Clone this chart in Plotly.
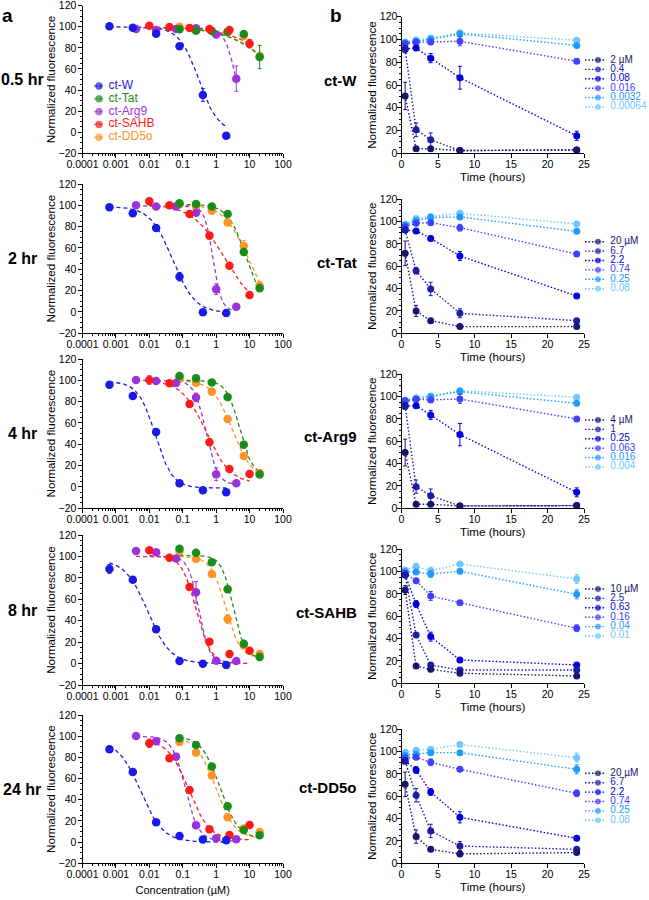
import numpy as np
import plotly.graph_objects as go

FONT = "Liberation Sans, Arial, sans-serif"
W, H = 649, 900

# ---------------- panel a : dose-response ----------------
time_labels = ["0.5 hr", "2 hr", "4 hr", "8 hr", "24 hr"]
peptides = ["ct-W", "ct-Tat", "ct-Arg9", "ct-SAHB", "ct-DD5o"]
pep_colors = {"ct-W": "#1a1ae6", "ct-Tat": "#1a8c1a", "ct-Arg9": "#9933dd",
              "ct-SAHB": "#ff1a1a", "ct-DD5o": "#ff9422"}

conc = {
    "ct-W":    [0.00064, 0.0032, 0.016, 0.08, 0.4, 2],
    "ct-Tat":  [0.08, 0.25, 0.74, 2.2, 6.7, 20],
    "ct-Arg9": [0.004, 0.016, 0.063, 0.25, 1, 4],
    "ct-SAHB": [0.01, 0.04, 0.16, 0.63, 2.5, 10],
    "ct-DD5o": [0.08, 0.25, 0.74, 2.2, 6.7, 20],
}

vals_0p5h = {
    "ct-W":    [100.5, 99, 93.5, 81.5, 35.3, -3.3],
    "ct-Tat":  [97.6, 96.3, 96, 95.4, 93.1, 71.3],
    "ct-Arg9": [98, 97, 98, 98.5, 92.8, 50.8],
    "ct-SAHB": [101, 99.8, 98.8, 98, 97, 84],
    "ct-DD5o": [100, 98, 96, 94.7, 91.2, 72],
}
err_0p5h = {
    "ct-W": [1, 1, 2, 2, 6, 1], "ct-Tat": [1, 1, 1, 1, 2, 11], "ct-Arg9": [1, 1, 1, 1, 2, 12],
    "ct-SAHB": [1, 1, 1, 1, 1, 4], "ct-DD5o": [1, 1, 1, 1, 2, 4],
}
vals_2h = {
    "ct-W":    [98.1, 92.5, 78.8, 33.1, -0.3, -0.9],
    "ct-Tat":  [101.9, 101.3, 98.8, 91.9, 56.3, 22.2],
    "ct-Arg9": [100, 98.8, 98.8, 93, 21.3, 5],
    "ct-SAHB": [103.8, 100, 91.9, 71.6, 43.4, 15.9],
    "ct-DD5o": [101, 98.8, 95, 84, 61.9, 24.7],
}
err_2h = {
    "ct-W": [1, 1, 2, 4, 1, 1], "ct-Tat": [1, 1, 1, 2, 3, 3], "ct-Arg9": [1, 1, 1, 2, 5, 2],
    "ct-SAHB": [3, 1, 2, 3, 2, 1], "ct-DD5o": [1, 1, 2, 3, 5, 4],
}
vals_4h = {
    "ct-W":    [95.9, 85.3, 51.6, 3.4, -3.1, -5],
    "ct-Tat":  [104, 102, 98, 84.4, 39.7, 11.6],
    "ct-Arg9": [100.3, 99.4, 97.5, 84, 11.9, 3.4],
    "ct-SAHB": [100.3, 97.2, 77.8, 41.9, 16.9, 12.2],
    "ct-DD5o": [101.9, 97.8, 89.4, 63.8, 29.1, 13.1],
}
err_4h = {
    "ct-W": [1, 1, 2, 1, 1, 1], "ct-Tat": [1, 1, 1, 2, 3, 1], "ct-Arg9": [1, 1, 1, 4, 6, 1],
    "ct-SAHB": [4, 1, 3, 3, 2, 2], "ct-DD5o": [1, 1, 3, 3, 3, 1],
}
vals_8h = {
    "ct-W":    [88.3, 78.3, 32, 2.4, -0.1, -1.3],
    "ct-Tat":  [107.2, 103.5, 94.5, 69.3, 18.6, 6.1],
    "ct-Arg9": [105, 104, 98, 66.5, 2.7, 2.4],
    "ct-SAHB": [105.7, 98.8, 71.5, 20.4, 8.9, 12],
    "ct-DD5o": [104.8, 97.9, 83.6, 41.6, 17, 8.9],
}
err_8h = {
    "ct-W": [4, 1, 2, 2, 1, 1], "ct-Tat": [2, 1, 2, 3, 2, 1], "ct-Arg9": [1, 2, 1, 10, 1, 1],
    "ct-SAHB": [1, 1, 2, 2, 1, 1], "ct-DD5o": [2, 2, 2, 4, 2, 1],
}
vals_24h = {
    "ct-W":    [87.6, 66.2, 18.7, 5.8, 2.4, 1.8],
    "ct-Tat":  [98, 91.7, 71.3, 33.8, 11.5, 6.5],
    "ct-Arg9": [100.2, 95.2, 80.7, 15.9, 3.6, 2.7],
    "ct-SAHB": [93.3, 79.1, 49.2, 12.1, 6.8, 16.2],
    "ct-DD5o": [94.5, 84.5, 62.8, 23.5, 12.8, 9.6],
}
err_24h = {
    "ct-W": [3, 2, 1, 1, 1, 1], "ct-Tat": [1, 1, 2, 2, 1, 1], "ct-Arg9": [1, 1, 3, 3, 1, 1],
    "ct-SAHB": [4, 3, 2, 1, 1, 1], "ct-DD5o": [3, 3, 3, 2, 1, 2],
}

# fitted 4-parameter logistic (top, bottom, EC50, Hill)
fit_0p5h = {"ct-W": (100, 0, 0.3, 1.5), "ct-Tat": (100, 0, 100, 0.6), "ct-Arg9": (99, 0, 4, 2.5),
            "ct-SAHB": (100, 0, 150, 0.6), "ct-DD5o": (100, 0, 110, 0.6)}
fit_2h = {"ct-W": (99, -1, 0.05, 1.3), "ct-Tat": (101, 0, 8, 1.6), "ct-Arg9": (99.5, 1, 0.8, 3.5),
          "ct-SAHB": (101, 0, 1.8, 0.9), "ct-DD5o": (101, 0, 9, 1.2)}
fit_4h = {"ct-W": (99, -1, 0.015, 1.7), "ct-Tat": (100, 10, 5, 2.2), "ct-Arg9": (100, 2, 0.5, 2.5),
          "ct-SAHB": (100, 3, 0.5, 1.2), "ct-DD5o": (100, 8, 3, 1.5)}
fit_8h = {"ct-W": (97, 0, 0.009, 1.3), "ct-Tat": (101, 5, 3.2, 2.5), "ct-Arg9": (100, 1, 0.3, 2.8),
          "ct-SAHB": (101, 0, 0.25, 2), "ct-DD5o": (100, 5, 1.9, 2)}
fit_24h = {"ct-W": (96, 0, 0.0055, 1.3), "ct-Tat": (100, 3, 1.3, 1.6), "ct-Arg9": (100, 1, 0.12, 2.2),
           "ct-SAHB": (97, 2, 0.15, 1.4), "ct-DD5o": (100, 3, 0.95, 1.5)}

a_vals = [vals_0p5h, vals_2h, vals_4h, vals_8h, vals_24h]
a_errs = [err_0p5h, err_2h, err_4h, err_8h, err_24h]
a_fits = [fit_0p5h, fit_2h, fit_4h, fit_8h, fit_24h]

x_ticks_a = [0.0001, 0.001, 0.01, 0.1, 1, 10, 100]
x_ticktext_a = ["0.0001", "0.001", "0.01", "0.1", "1", "10", "100"]

# ---------------- panel b : time courses ----------------
times_h = [0.5, 2, 4, 8, 24]
b_peptides = ["ct-W", "ct-Tat", "ct-Arg9", "ct-SAHB", "ct-DD5o"]
b_colors = ["#16166e", "#1c1ca8", "#0000dc", "#4040ff", "#1e9bff", "#70c6ff"]

b_labels_W = ["2 µM", "0.4", "0.08", "0.016", "0.0032", "0.00064"]
b_vals_W = [[50.4, 3.9, 4.1, 2.4, 3.0], [91.3, 20.7, 11.9, 2.4, 3.0], [91.8, 92.4, 83.6, 66.4, 15.4],
            [96.3, 97.5, 97.8, 98.4, 80.9], [97.2, 98.4, 100.1, 104.9, 94.8], [97.8, 99.6, 101.3, 105.8, 99.3]]
b_errs_W = [[12, 1, 1, 1, 1], [3, 6, 6, 1, 1], [3, 2, 4, 10, 4], [2, 1, 1, 4, 2], [2, 1, 1, 2, 1], [2, 2, 2, 2, 1]]

b_labels_Tat = ["20 µM", "6.7", "2.2", "0.74", "0.25", "0.08"]
b_vals_Tat = [[71.6, 20, 11.3, 6, 6], [92.5, 56.1, 39.7, 17.9, 11.3], [92.5, 91.6, 85, 69.3, 33.4],
              [95.5, 98.5, 99.1, 94.6, 71], [96.7, 100.9, 103.6, 104.2, 91.3], [97.9, 102.7, 104.5, 107.5, 97.9]]
b_errs_Tat = [[11, 5, 2, 1, 1], [2, 3, 6, 4, 1], [2, 2, 2, 4, 1], [2, 2, 2, 3, 1], [2, 2, 2, 2, 1], [2, 2, 2, 2, 1]]

b_labels_Arg9 = ["4 µM", "1", "0.25", "0.063", "0.016", "0.004"]
b_vals_Arg9 = [[49.9, 3.6, 3.6, 2.1, 2.4], [91.6, 19.4, 11.3, 2.1, 2.4], [91.6, 91.9, 83.6, 66, 14.3],
               [96.4, 97.6, 97, 97.9, 80], [95.5, 97.6, 100, 104.5, 94], [97, 99.1, 100.6, 105.4, 99.4]]
b_errs_Arg9 = [[12, 1, 1, 1, 1], [3, 6, 6, 1, 1], [3, 2, 4, 10, 4], [2, 1, 1, 4, 2], [2, 1, 1, 2, 1], [2, 2, 2, 2, 1]]

b_labels_SAHB = ["10 µM", "2.5", "0.63", "0.16", "0.04", "0.01"]
b_vals_SAHB = [[83.6, 15.5, 12.5, 9, 6.6], [97, 43.3, 16.4, 11.9, 11.9], [97, 71, 41.8, 20.9, 16.4],
               [98.5, 91.9, 78.2, 72.2, 49.3], [100, 99.7, 97.9, 100.3, 79.7], [101.5, 104.5, 100.9, 106.9, 93.4]]
b_errs_SAHB = [[4, 1, 2, 1, 1], [2, 2, 2, 1, 1], [2, 3, 4, 2, 1], [2, 2, 4, 2, 3], [2, 2, 3, 2, 4], [2, 3, 3, 2, 4]]

b_labels_DD5o = ["20 µM", "6.7", "2.2", "0.74", "0.25", "0.08"]
b_vals_DD5o = [[70.7, 23.9, 12.5, 8.4, 9.6], [91.3, 60.9, 29, 15.5, 12.5], [91.9, 83.6, 63.9, 41.2, 22.4],
               [94.3, 94.9, 90.4, 84.2, 62.7], [96.7, 97.6, 99.1, 99.1, 84.2], [99.4, 101.2, 102.1, 106.3, 94.6]]
b_errs_DD5o = [[11, 6, 2, 1, 1], [2, 6, 6, 4, 1], [2, 3, 3, 5, 1], [2, 2, 3, 1, 3], [2, 2, 2, 2, 4], [2, 2, 2, 2, 4]]

b_labels = [b_labels_W, b_labels_Tat, b_labels_Arg9, b_labels_SAHB, b_labels_DD5o]
b_vals = [b_vals_W, b_vals_Tat, b_vals_Arg9, b_vals_SAHB, b_vals_DD5o]
b_errs = [b_errs_W, b_errs_Tat, b_errs_Arg9, b_errs_SAHB, b_errs_DD5o]

# ---------------- layout geometry (pixels) ----------------
left_x_px = (82.5, 283)
right_x_px = (401.5, 584)
left_y_px = [(5.7, 153.3), (184, 333.3), (359, 508.3), (535, 685), (715, 863.3)]
right_y_px = [(16.7, 153.3), (199.3, 333.3), (374.3, 508.3), (549.3, 683.3), (729.3, 863.3)]
right_label_y = [80, 262, 437, 612, 787]
right_leg_first = [60, 241.7, 420, 589, 773.3]
ROW = 9.4


def xd(a, b):
    return [a / W, b / W]


def yd(top, bottom):
    return [1 - bottom / H, 1 - top / H]


def logistic(x, top, bottom, ec50, hill):
    return bottom + (top - bottom) / (1 + (x / ec50) ** hill)


fig = go.Figure()
layout = {}

axis_common = dict(showline=True, linecolor="black", linewidth=1, ticks="outside", ticklen=4,
                   tickwidth=1, tickcolor="black", showgrid=False, zeroline=False, tickangle=0,
                   tickfont=dict(family=FONT, size=10.5, color="black"), fixedrange=True)
title_font = dict(family=FONT, size=11.6, color="black")

minor_log = [m * 10.0 ** k for k in range(-4, 2) for m in range(2, 10)]
draw_order = ["ct-DD5o", "ct-Arg9", "ct-Tat", "ct-SAHB", "ct-W"]

for r in range(5):
    ia = 2 * r + 1
    ib = 2 * r + 2
    xa, ya = f"x{ia}", f"y{ia}"
    xb, yb = f"x{ib}", f"y{ib}"
    # ---- panel a axes
    layout[f"xaxis{ia}"] = dict(axis_common, type="log", range=[-4, 2], domain=xd(*left_x_px), anchor=ya,
                                tickvals=x_ticks_a, ticktext=x_ticktext_a, ticklabelstandoff=-3,
                                minor=dict(ticks="outside", ticklen=2, tickvals=minor_log, tickcolor="black"),
                                title=dict(text="Concentration (µM)" if r == 4 else "",
                                           font=dict(family=FONT, size=11, color="black"), standoff=7))
    layout[f"yaxis{ia}"] = dict(axis_common, range=[-20, 120], domain=yd(*left_y_px[r]), anchor=xa,
                                tickvals=list(range(-20, 121, 20)), ticklabelstandoff=-1,
                                minor=dict(ticks="outside", ticklen=2, dtick=5, tickcolor="black"),
                                title=dict(text="Normalized fluorescence", font=title_font, standoff=0))
    vals, errs, fits = a_vals[r], a_errs[r], a_fits[r]
    for p in draw_order:
        c = conc[p]
        xs = np.logspace(np.log10(min(c)), np.log10(max(c)), 150)
        fig.add_trace(go.Scatter(x=xs, y=logistic(xs, *fits[p]), mode="lines", xaxis=xa, yaxis=ya,
                                 line=dict(color=pep_colors[p], width=1.3, dash="4px,3px"),
                                 hoverinfo="skip", showlegend=False))
    for p in draw_order:
        fig.add_trace(go.Scatter(x=conc[p], y=vals[p], mode="markers", xaxis=xa, yaxis=ya, name=p,
                                 marker=dict(color=pep_colors[p], size=8.5),
                                 error_y=dict(type="data", array=errs[p], color=pep_colors[p],
                                              thickness=1, width=2),
                                 showlegend=False))
    # ---- panel b axes
    layout[f"xaxis{ib}"] = dict(axis_common, range=[0, 25], domain=xd(*right_x_px), anchor=yb,
                                tickvals=list(range(0, 26, 5)), ticklabelstandoff=-3,
                                title=dict(text="Time (hours)", font=title_font, standoff=0))
    layout[f"yaxis{ib}"] = dict(axis_common, range=[0, 120], domain=yd(*right_y_px[r]), anchor=xb,
                                tickvals=list(range(0, 121, 20)), ticklabelstandoff=-3,
                                minor=dict(ticks="outside", ticklen=2, dtick=5, tickcolor="black"),
                                title=dict(text="Normalized fluorescence", font=title_font, standoff=0))
    for k in reversed(range(6)):
        fig.add_trace(go.Scatter(x=times_h, y=b_vals[r][k], mode="lines+markers", xaxis=xb, yaxis=yb,
                                 name=b_labels[r][k],
                                 line=dict(color=b_colors[k], width=1.4, dash="1.5px,2px"),
                                 marker=dict(color=b_colors[k], size=7),
                                 error_y=dict(type="data", array=b_errs[r][k], color=b_colors[k],
                                              thickness=1, width=2),
                                 showlegend=False))

# ---------------- hand-built legends (mini axes) ----------------
leg_glyph_a = [0, 1, 2]      # line start, marker, line end
leg_text_a = 2.9             # label anchor
layout["xaxis11"] = dict(visible=False, range=[0, 3], domain=xd(94, 109), anchor="y11", fixedrange=True)
layout["yaxis11"] = dict(visible=False, range=[4.5, -0.5], domain=yd(79.6, 143.7), anchor="x11", fixedrange=True)
for i, p in enumerate(peptides):
    fig.add_trace(go.Scatter(x=leg_glyph_a, y=[i] * 3, mode="lines+markers", xaxis="x11", yaxis="y11",
                             line=dict(color=pep_colors[p], width=1.3, dash="3px,2px"),
                             marker=dict(color=pep_colors[p], size=[0, 8.5, 0]), cliponaxis=False,
                             hoverinfo="skip", showlegend=False))
    fig.add_trace(go.Scatter(x=[leg_text_a], y=[i], mode="text", xaxis="x11", yaxis="y11",
                             text=[p], textposition="middle right", cliponaxis=False,
                             textfont=dict(family=FONT, size=12, color=pep_colors[p]),
                             hoverinfo="skip", showlegend=False))

leg_glyph_b = [0, 2, 3]
leg_text_b = 3.9
for r in range(5):
    ix = 12 + r
    top = right_leg_first[r] - ROW / 2
    layout[f"xaxis{ix}"] = dict(visible=False, range=[0, 4], domain=xd(585, 611), anchor=f"y{ix}", fixedrange=True)
    layout[f"yaxis{ix}"] = dict(visible=False, range=[5.5, -0.5], domain=yd(top, top + 6 * ROW),
                                anchor=f"x{ix}", fixedrange=True)
    for k in range(6):
        fig.add_trace(go.Scatter(x=leg_glyph_b, y=[k] * 3, mode="lines+markers",
                                 xaxis=f"x{ix}", yaxis=f"y{ix}",
                                 line=dict(color=b_colors[k], width=1.4, dash="1.5px,2px"),
                                 marker=dict(color=b_colors[k], size=[0, 7, 0]), cliponaxis=False,
                                 hoverinfo="skip", showlegend=False))
        fig.add_trace(go.Scatter(x=[leg_text_b], y=[k], mode="text", xaxis=f"x{ix}", yaxis=f"y{ix}",
                                 text=[b_labels[r][k]], textposition="middle right", cliponaxis=False,
                                 textfont=dict(family=FONT, size=10, color=b_colors[k]),
                                 hoverinfo="skip", showlegend=False))

# ---------------- annotations ----------------
ann = []
ann.append(dict(text="<b>a</b>", x=0, y=1 - 15 / H, xref="paper", yref="paper", xanchor="left",
                yanchor="middle", showarrow=False, font=dict(family=FONT, size=19, color="black")))
ann.append(dict(text="<b>b</b>", x=328 / W, y=1 - 15 / H, xref="paper", yref="paper", xanchor="left",
                yanchor="middle", showarrow=False, font=dict(family=FONT, size=19, color="black")))
for r in range(5):
    t, b = left_y_px[r]
    ann.append(dict(text=f"<b>{time_labels[r]}</b>", x=22 / W, y=1 - (t + b) / 2 / H, xref="paper", yref="paper",
                    xanchor="center", yanchor="middle", showarrow=False,
                    font=dict(family=FONT, size=16, color="black")))
    ann.append(dict(text=f"<b>{b_peptides[r]}</b>", x=359 / W, y=1 - right_label_y[r] / H, xref="paper",
                    yref="paper", xanchor="right", yanchor="middle", showarrow=False,
                    font=dict(family=FONT, size=15, color="black")))

fig.update_layout(width=W, height=H, margin=dict(l=0, r=0, t=0, b=0, autoexpand=False), plot_bgcolor="white",
                  paper_bgcolor="white", showlegend=False, annotations=ann,
                  font=dict(family=FONT, color="black"), **layout)

# the page body has a default 8px margin; remove it so the 649x900 figure fills the window exactly
fig.write_html("out.html", config={"displayModeBar": False},
               post_script="document.body.style.margin='0';")
